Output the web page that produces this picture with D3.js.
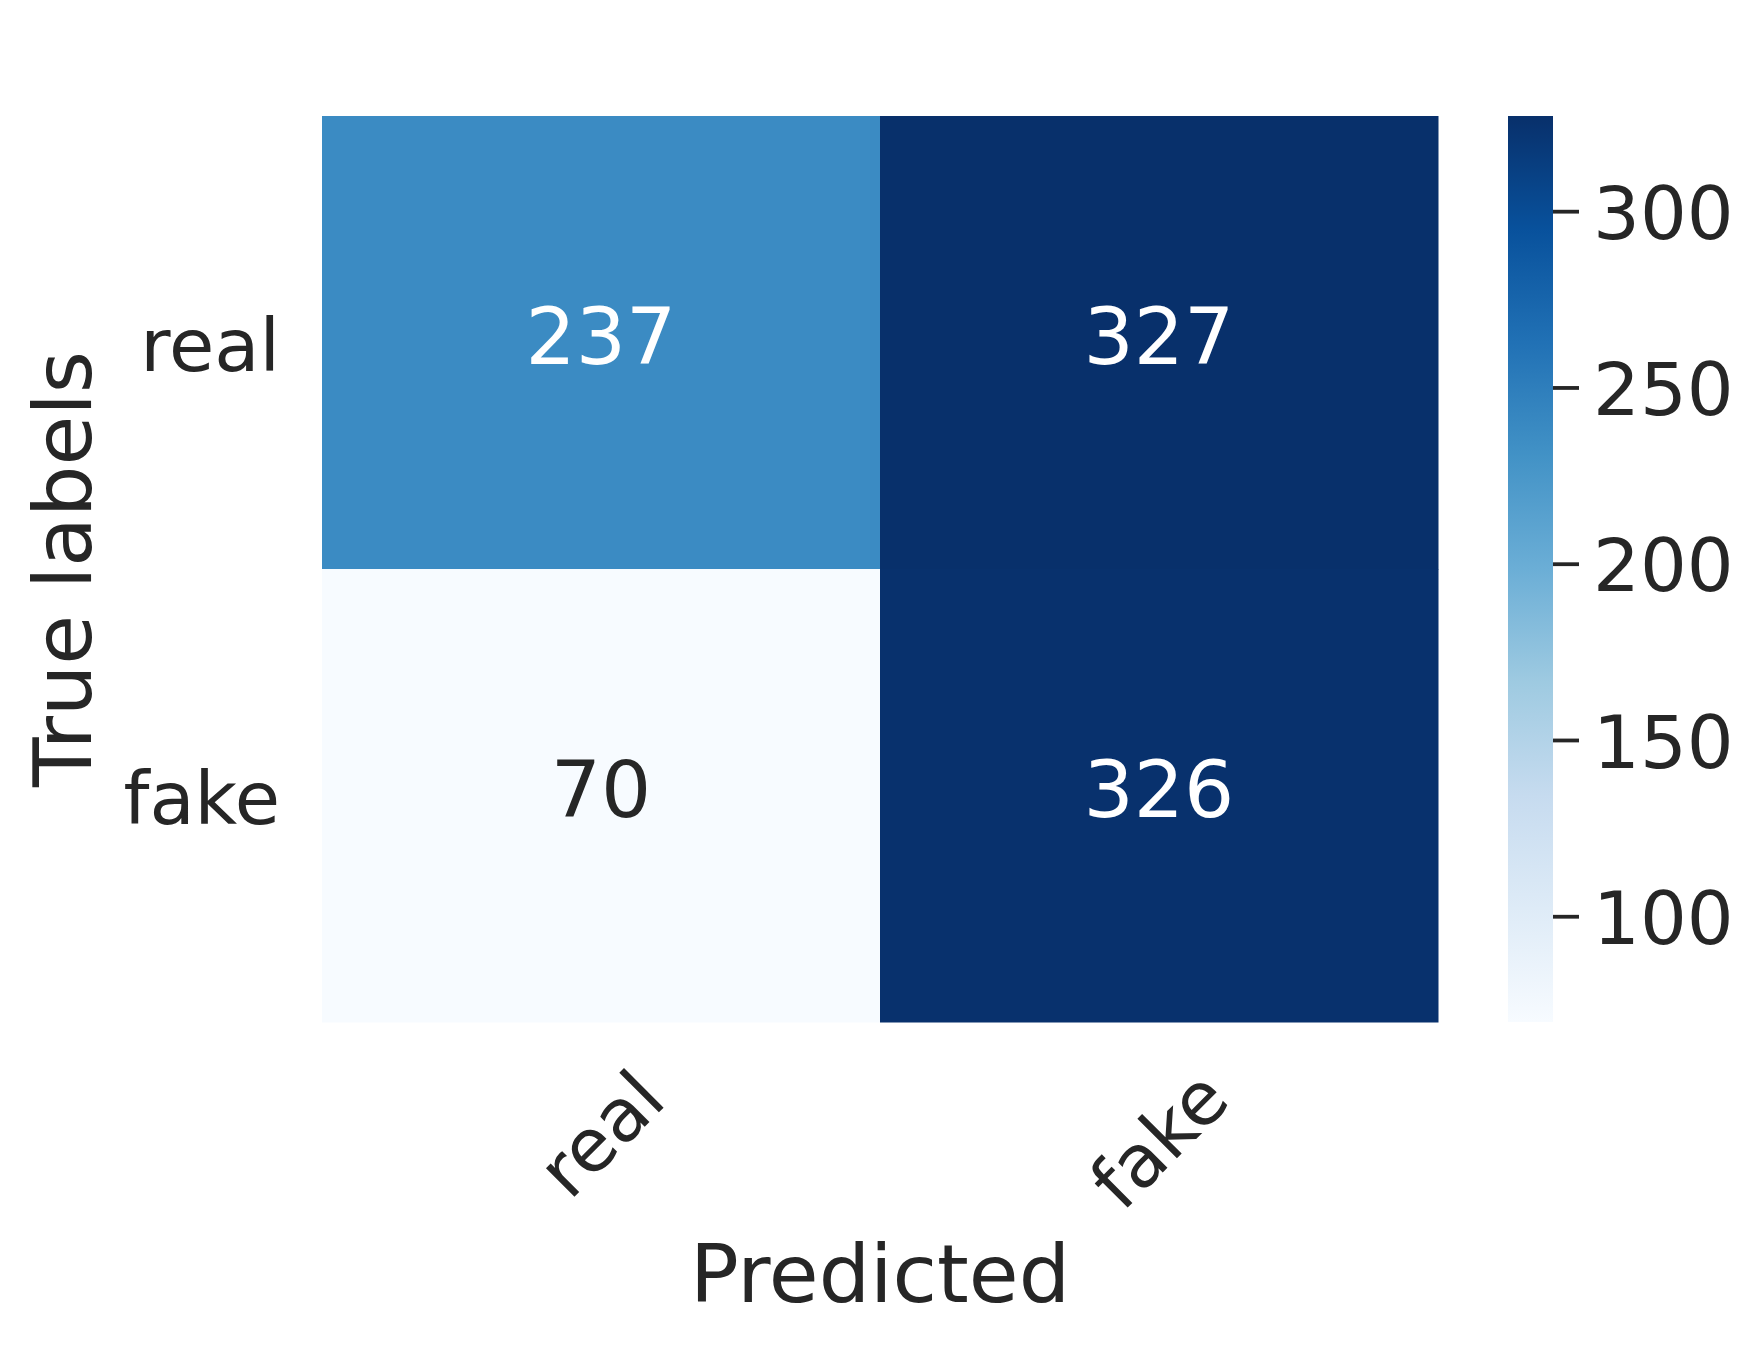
<!DOCTYPE html>
<html>
<head>
<meta charset="utf-8">
<script src="https://cdn.jsdelivr.net/npm/d3@7"></script>
<style>
  body { margin: 0; background: #fff; }
  text { font-family: "DejaVu Sans", sans-serif; fill: #262626; }
</style>
</head>
<body>
<div id="chart"></div>
<script>
const trueLabels = ["real", "fake"];
const predLabels = ["real", "fake"];
const rowReal = [237, 327];
const rowFake = [70, 326];
const cbTicks = [100, 150, 200, 250, 300];

const W = 1763, H = 1348;
const box = { left: 322, right: 1438, top: 116, bottom: 1022 };
const cb = { left: 1508, right: 1553 };
const tickFont = 73.7, labelFont = 81, annotFont = 79;

const svg = d3.select("#chart")
  .append("svg")
  .attr("width", W)
  .attr("height", H);

const rows = [rowReal, rowFake];
const cells = [];
rows.forEach((r, i) => r.forEach((v, j) => cells.push({ t: trueLabels[i], p: predLabels[j], v })));

const vmin = d3.min(cells, d => d.v), vmax = d3.max(cells, d => d.v);

// matplotlib "Blues" = linear between the 9 ColorBrewer stops
const blues = d3.schemeBlues[9];
const color = d3.scaleLinear()
  .domain(blues.map((_, i) => vmin + (vmax - vmin) * i / (blues.length - 1)))
  .range(blues)
  .interpolate(d3.interpolateRgb)
  .clamp(true);

const x = d3.scaleBand().domain(predLabels).range([box.left, box.right]);
const y = d3.scaleBand().domain(trueLabels).range([box.top, box.bottom]);

svg.append("g")
  .selectAll("rect")
  .data(cells)
  .join("rect")
  .attr("x", d => x(d.p))
  .attr("y", d => y(d.t))
  .attr("width", x.bandwidth() + 0.5)
  .attr("height", y.bandwidth() + 0.5)
  .attr("fill", d => color(d.v));

// annotations
svg.append("g")
  .selectAll("text")
  .data(cells)
  .join("text")
  .attr("x", d => x(d.p) + x.bandwidth() / 2)
  .attr("y", d => y(d.t) + y.bandwidth() / 2)
  .attr("dy", "0.27em")
  .attr("text-anchor", "middle")
  .style("font-size", annotFont + "px")
  .style("fill", d => d3.lab(color(d.v)).l < 60 ? "#ffffff" : "#262626")
  .text(d => d.v);

// y tick labels
svg.append("g")
  .selectAll("text")
  .data(trueLabels)
  .join("text")
  .attr("x", box.left - 42)
  .attr("y", d => y(d) + y.bandwidth() / 2)
  .attr("dy", "0.38em")
  .attr("text-anchor", "end")
  .style("font-size", tickFont + "px")
  .text(d => d);

// x tick labels, rotated 45 around their centre
const xt = svg.append("g")
  .selectAll("text")
  .data(predLabels)
  .join("text")
  .attr("text-anchor", "middle")
  .attr("dy", "0.35em")
  .style("font-size", tickFont + "px")
  .text(d => d);

xt.each(function (d) {
  const w = this.getComputedTextLength();
  const h = tickFont * 1.17;
  const cx = x(d) + x.bandwidth() / 2;
  const cy = 1054 + (w + h) * Math.SQRT1_2 / 2;
  d3.select(this)
    .attr("x", cx)
    .attr("y", cy)
    .attr("transform", `rotate(-45,${cx},${cy})`);
});

// axis titles
svg.append("text")
  .attr("x", (box.left + box.right) / 2)
  .attr("y", 1302)
  .attr("text-anchor", "middle")
  .style("font-size", labelFont + "px")
  .text("Predicted");

svg.append("text")
  .attr("transform", `translate(91,${(box.top + box.bottom) / 2}) rotate(-90)`)
  .attr("text-anchor", "middle")
  .style("font-size", labelFont + "px")
  .text("True labels");

// colorbar
const cy = d3.scaleLinear().domain([vmin, vmax]).range([box.bottom, box.top]);
const grad = svg.append("defs").append("linearGradient")
  .attr("id", "cbgrad")
  .attr("x1", 0).attr("y1", 1).attr("x2", 0).attr("y2", 0);
d3.range(0, 1.0001, 0.125).forEach(t => {
  grad.append("stop")
    .attr("offset", t)
    .attr("stop-color", color(vmin + t * (vmax - vmin)));
});

svg.append("rect")
  .attr("x", cb.left)
  .attr("y", box.top)
  .attr("width", cb.right - cb.left)
  .attr("height", box.bottom - box.top)
  .attr("fill", "url(#cbgrad)");

const cbAxis = svg.append("g")
  .attr("transform", `translate(${cb.right},0)`)
  .call(d3.axisRight(cy).tickValues(cbTicks).tickSize(26).tickPadding(14));
cbAxis.select(".domain").remove();
cbAxis.selectAll(".tick line").attr("stroke", "#262626").attr("stroke-width", 3.8);
cbAxis.selectAll(".tick text")
  .attr("fill", "#262626")
  .attr("dy", "0.37em")
  .style("font-family", "DejaVu Sans, sans-serif")
  .style("font-size", tickFont + "px");
</script>
</body>
</html>
